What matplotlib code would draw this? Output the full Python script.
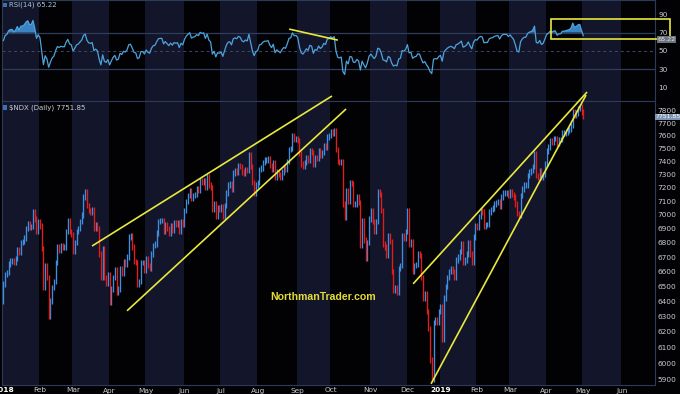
import numpy as np
import pandas as pd
import matplotlib
matplotlib.use("Agg")
import matplotlib.pyplot as plt
from matplotlib.patches import Rectangle
from matplotlib.ticker import FuncFormatter, NullLocator, FixedLocator
from matplotlib.transforms import blended_transform_factory

# ---------------- data (daily closes of $NDX) ----------------
# late-2017 closes, only used to warm up the RSI(14) indicator
warmup_2017_12 = [6340, 6260, 6270, 6300, 6360, 6400, 6440, 6430, 6440, 6440, 6520,
                  6560, 6510, 6500, 6510, 6500, 6430, 6440, 6450, 6400]
m2018_01 = [6515, 6578, 6595, 6653, 6673, 6677, 6661, 6689, 6753, 6731, 6804, 6809, 6834, 6901, 6936, 6912, 6916, 7022, 6969, 6884, 6949]
m2018_02 = [6920, 6760, 6490, 6640, 6560, 6300, 6400, 6490, 6530, 6660, 6770, 6750, 6780, 6770, 6770, 6880, 6960, 6880, 6860]
m2018_03 = [6740, 6800, 6880, 6900, 6950, 7000, 7130, 7170, 7070, 7030, 7020, 7040, 6900, 6930, 6900, 6720, 6560, 6760, 6560, 6520, 6580]
m2018_04 = [6390, 6480, 6560, 6610, 6460, 6480, 6620, 6590, 6670, 6650, 6700, 6840, 6850, 6770, 6670, 6660, 6510, 6530, 6660, 6660, 6605]
m2018_05 = [6690, 6640, 6620, 6720, 6780, 6790, 6870, 6950, 6960, 6960, 6880, 6930, 6900, 6870, 6920, 6890, 6940, 6930, 6940, 6880, 6950, 6930]
m2018_06 = [7030, 7100, 7140, 7180, 7120, 7140, 7150, 7190, 7180, 7250, 7240, 7250, 7200, 7280, 7220, 7200, 7040, 7080, 6990, 7050, 7040]
m2018_07 = [7060, 6990, 7070, 7160, 7220, 7230, 7190, 7310, 7330, 7320, 7370, 7360, 7320, 7310, 7340, 7330, 7450, 7360, 7240, 7160, 7220]
m2018_08 = [7240, 7340, 7350, 7390, 7410, 7410, 7420, 7370, 7340, 7390, 7280, 7320, 7300, 7280, 7320, 7350, 7340, 7400, 7490, 7500, 7600, 7570, 7580]
m2018_09 = [7560, 7460, 7380, 7360, 7390, 7430, 7410, 7480, 7470, 7380, 7430, 7420, 7480, 7450, 7470, 7520, 7510, 7590, 7600]
m2018_10 = [7630, 7620, 7640, 7490, 7400, 7390, 7400, 7080, 6980, 7180, 7100, 7240, 7230, 7080, 7080, 7130, 7090, 6780, 6960, 6820, 6690, 6800, 6970]
m2018_11 = [7030, 6950, 6880, 6950, 7170, 7150, 7030, 6790, 6770, 6710, 6850, 6810, 6600, 6470, 6490, 6460, 6620, 6640, 6850, 6830, 6880]
m2018_12 = [7030, 6790, 6810, 6600, 6640, 6650, 6720, 6710, 6560, 6420, 6450, 6330, 6220, 6020, 5900, 6260, 6280, 6260, 6330]
m2019_01 = [6360, 6150, 6420, 6500, 6560, 6600, 6620, 6600, 6560, 6680, 6700, 6740, 6790, 6660, 6680, 6720, 6800, 6720, 6660, 6840, 6920]
m2019_02 = [6910, 6990, 7030, 7020, 6920, 6930, 6930, 7020, 7040, 7050, 7080, 7090, 7100, 7060, 7130, 7160, 7160, 7160, 7140]
m2019_03 = [7170, 7150, 7130, 7080, 7010, 7000, 7140, 7190, 7220, 7220, 7290, 7320, 7330, 7360, 7460, 7290, 7280, 7330, 7280, 7300, 7380]
m2019_04 = [7480, 7510, 7560, 7550, 7580, 7580, 7540, 7570, 7570, 7620, 7620, 7630, 7640, 7650, 7680, 7790, 7760, 7780, 7820, 7830, 7790]
m2019_05 = [7751.85]

holidays = ["2018-01-15", "2018-02-19", "2018-03-30", "2018-05-28", "2018-07-04",
            "2018-09-03", "2018-11-22", "2018-12-05", "2018-12-25", "2019-01-01",
            "2019-01-21", "2019-02-18", "2019-04-19", "2019-05-27"]

price_ticks = list(range(5900, 7801, 100))
rsi_ticks = [10, 30, 50, 70, 90]
title_price = "$NDX (Daily) 7751.85"
title_rsi = "RSI(14) 65.22"
last_price_label = "7751.85"
last_rsi_label = "65.22"
watermark = "NorthmanTrader.com"

# trendlines (date index, price)
wedge1_upper = [(50.9, 6777), (188.7, 7920)]
wedge1_lower = [(71.0, 6336), (196.8, 7814)]
wedge2_upper = [(235.3, 6516), (335.2, 7953)]
wedge2_lower = [(245.6, 5873), (334.6, 7928)]
rsi_line = [(164.6, 73.6), (191.6, 62.0)]
rsi_box = (314.4, 63.0, 382.9, 85.1)

# ---------------- build series ----------------
closes = np.array(m2018_01 + m2018_02 + m2018_03 + m2018_04 + m2018_05 + m2018_06 +
                  m2018_07 + m2018_08 + m2018_09 + m2018_10 + m2018_11 + m2018_12 +
                  m2019_01 + m2019_02 + m2019_03 + m2019_04 + m2019_05, dtype=float)
n = len(closes)
days = pd.bdate_range("2018-01-02", "2019-06-28")
days = days[~days.isin(pd.to_datetime(holidays))]
x = np.arange(n)
opens = np.r_[warmup_2017_12[-1], closes[:-1]]

# RSI(14), Wilder smoothing (warmed up on late-2017 closes)
nw = len(warmup_2017_12)
s = pd.Series(np.r_[warmup_2017_12, closes])
d = s.diff().iloc[1:]
gain = d.clip(lower=0)
loss = -d.clip(upper=0)
ag = gain.ewm(alpha=1 / 14, adjust=True).mean()
al = loss.ewm(alpha=1 / 14, adjust=True).mean()
rsi_all = (100 - 100 / (1 + ag / al.replace(0, np.nan))).fillna(100).values
rsi = rsi_all[nw - 1:]

# ---------------- styling ----------------
BG = "#020204"
SHADE = "#13152a"
SPINE = "#2c3b58"
BLUE = "#3f8ee0"
RED = "#e51c1c"
YEL = "#e9e83c"
TXT = "#c9ccd2"
RSI_C = "#4ea3dc"

W, H = 680, 394
fig = plt.figure(figsize=(6.8, 3.94), dpi=100, facecolor=BG)
def fx(p): return p / W
def fy(p): return 1 - p / H

ax_r = fig.add_axes([fx(2), fy(100.5), fx(655) - fx(2), fy(0) - fy(100.5)])
ax_p = fig.add_axes([fx(2), fy(385), fx(655) - fx(2), fy(100.5) - fy(385)])

xmin, xmax = -0.8, 374.2
for ax in (ax_r, ax_p):
    ax.set_facecolor(BG)
    ax.set_xlim(xmin, xmax)
    for sp in ax.spines.values():
        sp.set_color(SPINE)
        sp.set_linewidth(0.8)

# monthly shading + ticks
periods = days.to_period("M")
tick_pos, tick_lab = [], []
for per in pd.period_range("2018-01", "2019-06", freq="M"):
    idx = np.where(periods == per)[0]
    start, end = idx[0], idx[-1]
    tick_pos.append(start)
    tick_lab.append(str(per.year) if per.month == 1 else per.strftime("%b"))
    if per.month % 2 == 1:
        for ax in (ax_r, ax_p):
            ax.axvspan(start - 0.5, end + 0.5, color=SHADE, zorder=0, lw=0)

# ---------------- price panel ----------------
pad = 0.0028
up = closes >= opens
hi = np.maximum(opens, closes) * (1 + pad)
lo = np.minimum(opens, closes) * (1 - pad)
ax_p.vlines(x[up], lo[up], hi[up], color=BLUE, lw=0.95, zorder=3)
ax_p.vlines(x[~up], lo[~up], hi[~up], color=RED, lw=0.95, zorder=3)

ax_p.set_yscale("log")
ax_p.set_ylim(5866, 7883)
ax_p.yaxis.set_major_locator(FixedLocator(price_ticks))
ax_p.yaxis.set_minor_locator(NullLocator())
ax_p.yaxis.set_major_formatter(FuncFormatter(lambda v, p: f"{int(round(v))}"))
ax_p.yaxis.tick_right()
ax_p.tick_params(axis="y", length=0, pad=1.5, labelsize=5.3, labelcolor=TXT)
ax_p.set_xticks(tick_pos)
ax_p.set_xticklabels(tick_lab)
ax_p.tick_params(axis="x", length=0, pad=1.8, labelsize=5.3, labelcolor=TXT)
for t in ax_p.get_xticklabels():
    if t.get_text().isdigit():
        t.set_fontweight("bold")
        t.set_color("white")

for seg in (wedge1_upper, wedge1_lower, wedge2_upper, wedge2_lower):
    (x1, y1), (x2, y2) = seg
    ax_p.plot([x1, x2], [y1, y2], color=YEL, lw=1.2, zorder=5, clip_on=False,
              solid_capstyle="butt")

ax_p.text(0.492, 0.31, watermark, transform=ax_p.transAxes, ha="center", va="center",
          color="#e4dc36", fontsize=7.6, fontweight="bold", family="Liberation Sans", zorder=6)

tr = blended_transform_factory(ax_p.transAxes, ax_p.transData)
ax_p.text(1.0015, closes[-1], last_price_label, transform=tr, ha="left", va="center",
          fontsize=4.4, color="white",
          bbox=dict(boxstyle="square,pad=0.1", fc="#7d95b3", ec="none"), zorder=7, clip_on=False)

ax_p.text(0.011, 0.985, title_price, transform=ax_p.transAxes, ha="left", va="top",
          fontsize=5, color=TXT)
ax_p.add_patch(Rectangle((0.002, 0.968), 0.006, 0.016, transform=ax_p.transAxes,
                         fc="#3f6fb0", ec="none"))

# ---------------- RSI panel ----------------
ax_r.set_ylim(-3.8, 105.4)
for lvl in (70, 30):
    ax_r.axhline(lvl, color="#2e3d5c", lw=0.9, zorder=1)
ax_r.axhline(50, color="#3d4a66", lw=0.7, ls=(0, (3, 3)), zorder=1)
ax_r.fill_between(x, rsi, 70, where=rsi > 70, interpolate=True, color="#3a84c4", lw=0, zorder=2)
ax_r.plot(x, rsi, color=RSI_C, lw=0.9, zorder=3)
ax_r.set_xticks([])
ax_r.yaxis.tick_right()
ax_r.set_yticks(rsi_ticks)
ax_r.tick_params(axis="y", length=0, pad=2.5, labelsize=5.3, labelcolor=TXT)

(x1, y1), (x2, y2) = rsi_line
ax_r.plot([x1, x2], [y1, y2], color=YEL, lw=1.2, zorder=5)
bx0, by0, bx1, by1 = rsi_box
ax_r.add_patch(Rectangle((bx0, by0), bx1 - bx0, by1 - by0, fill=False, ec=YEL, lw=1.2,
                         zorder=6, clip_on=False))
trr = blended_transform_factory(ax_r.transAxes, ax_r.transData)
ax_r.text(1.004, 62.5, last_rsi_label, transform=trr, ha="left", va="center",
          fontsize=4.6, color="#e8e8e8",
          bbox=dict(boxstyle="square,pad=0.1", fc="#6d7480", ec="none"), zorder=7, clip_on=False)
ax_r.text(0.011, 0.985, title_rsi, transform=ax_r.transAxes, ha="left", va="top",
          fontsize=5, color="#a8c4e0")
ax_r.add_patch(Rectangle((0.002, 0.93), 0.006, 0.04, transform=ax_r.transAxes,
                         fc="#3f6fb0", ec="none"))

fig.savefig("out.png", dpi=100, facecolor=BG)
